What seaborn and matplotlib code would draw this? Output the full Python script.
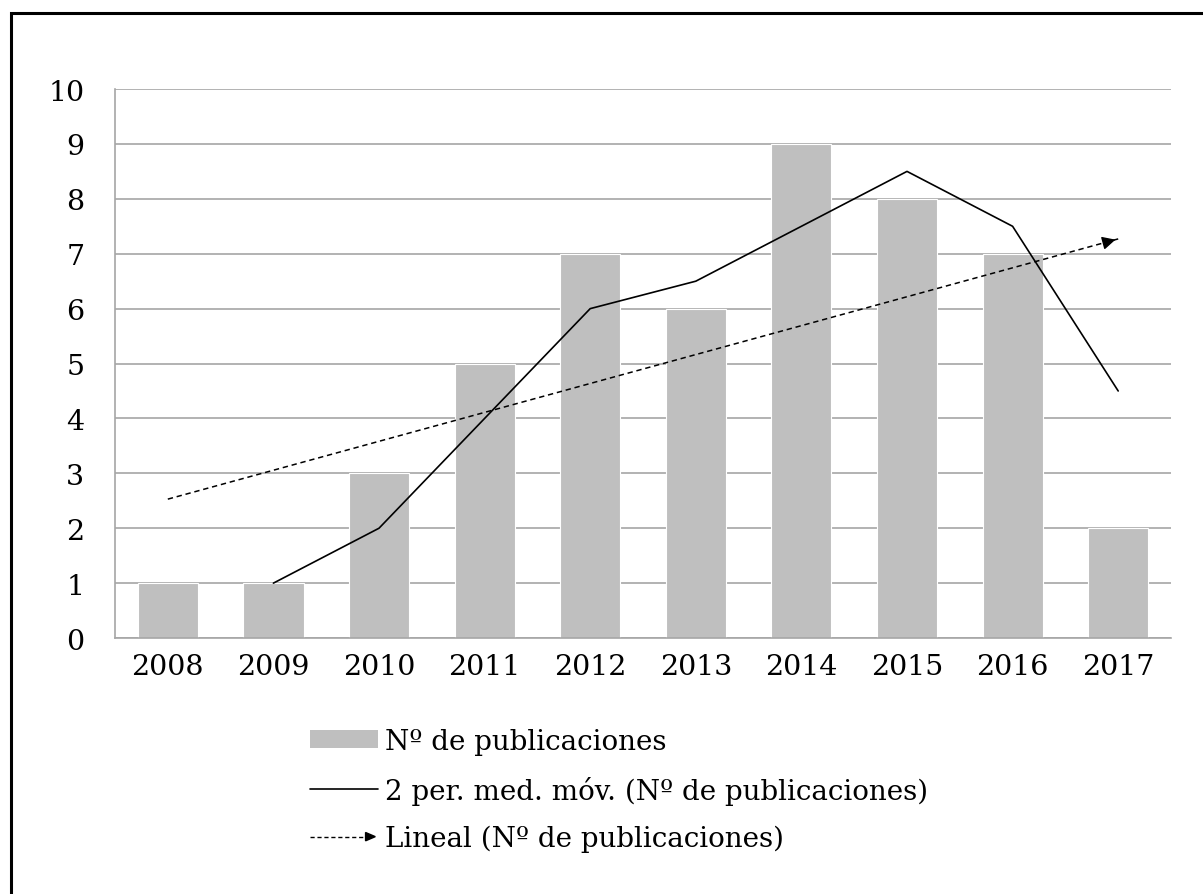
import numpy as np
import pandas as pd
import seaborn as sns
import matplotlib.pyplot as plt
import matplotlib.patches as patches
from matplotlib.lines import Line2D
from matplotlib.legend_handler import HandlerBase

# data
years = ['2008', '2009', '2010', '2011', '2012', '2013', '2014', '2015', '2016', '2017']
publications = [1, 1, 3, 5, 7, 6, 9, 8, 7, 2]
moving_avg_years = ['2009', '2010', '2011', '2012', '2013', '2014', '2015', '2016', '2017']
moving_avg = [1, 2, 4, 6, 6.5, 7.5, 8.5, 7.5, 4.5]
trend_years = ['2008', '2017']
trend_values = [2.53, 7.27]

label_bars = 'Nº de publicaciones'
label_avg = '2 per. med. móv. (Nº de publicaciones)'
label_trend = 'Lineal (Nº de publicaciones)'

BAR_GREY = '#BFBFBF'
GRID_GREY = '#A6A6A6'


class ArrowLineHandler(HandlerBase):
    # dashed line with a small solid arrow head, like the excel trend legend
    def create_artists(self, legend, orig_handle, xdescent, ydescent,
                       width, height, fontsize, trans):
        y = height / 2 - ydescent
        line = Line2D([-xdescent, width - xdescent - 6], [y, y],
                      color='black', lw=1.0, ls=(0, (3, 2)), transform=trans)
        head = patches.FancyArrow(width - xdescent - 8, y, 6, 0, width=0.01,
                                  head_width=6, head_length=7,
                                  length_includes_head=True, color='black',
                                  transform=trans)
        return [line, head]


sns.set_style('white')
plt.rcParams['font.family'] = ['DejaVu Serif']
plt.rcParams['text.color'] = 'black'
plt.rcParams['xtick.color'] = 'black'
plt.rcParams['ytick.color'] = 'black'

fig = plt.figure(figsize=(12.03, 8.95), dpi=100)
ax = fig.add_axes([0.0956, 0.286, 0.8778, 0.6134])

df = pd.DataFrame({'year': years, 'n': publications})
sns.barplot(data=df, x='year', y='n', color=BAR_GREY, saturation=1,
            width=0.57, ax=ax, zorder=2, edgecolor='white', linewidth=0.8)

pos = {y: i for i, y in enumerate(years)}
df_avg = pd.DataFrame({'x': [pos[y] for y in moving_avg_years], 'v': moving_avg})
sns.lineplot(data=df_avg, x='x', y='v', color='black', lw=1.2, ax=ax, zorder=4)

df_trend = pd.DataFrame({'x': [pos[y] for y in trend_years], 'v': trend_values})
sns.lineplot(data=df_trend, x='x', y='v', color='black', lw=1.1,
             ls=(0, (3.5, 2.5)), ax=ax, zorder=4)
x1, x2 = df_trend['x']
v1, v2 = df_trend['v']
ax.annotate('', xy=(x2, v2), xytext=(x2 - 0.15, v2 - 0.15 * (v2 - v1) / (x2 - x1)),
            arrowprops=dict(arrowstyle='-|>', color='black', lw=1.0,
                            mutation_scale=20), zorder=5)

ax.set_xlim(-0.5, len(years) - 0.5)
ax.set_ylim(0, 10)
ax.set_yticks(range(0, 11))
ax.yaxis.grid(True, color=GRID_GREY, lw=1.2, zorder=0)
ax.set_axisbelow(True)
ax.set_xlabel('')
ax.set_ylabel('')
for side in ['top', 'right']:
    ax.spines[side].set_visible(False)
for side in ['left', 'bottom']:
    ax.spines[side].set_color(GRID_GREY)
    ax.spines[side].set_linewidth(1.2)
ax.tick_params(axis='y', length=0, pad=22, labelsize=20.5, labelcolor='black')
ax.tick_params(axis='x', length=0, pad=11, labelsize=20.5, labelcolor='black')

handles = [patches.Patch(facecolor=BAR_GREY, edgecolor='none'),
           Line2D([], [], color='black', lw=1.2),
           Line2D([], [], color='black', lw=1.0, ls='--')]
fig.legend(handles, [label_bars, label_avg, label_trend],
           loc='upper left', bbox_to_anchor=(0.2577, 0.1855), frameon=False,
           fontsize=20, handlelength=2.45, handleheight=0.6, handletextpad=0.25,
           labelspacing=0.74, borderpad=0, borderaxespad=0,
           handler_map={handles[2]: ArrowLineHandler()})

# outer black frame, it runs off the right and bottom edge
fig.patches.append(patches.Rectangle((11 / 1203, -0.05), 1.1, 1 - 14 / 895 + 0.05,
                                     transform=fig.transFigure, fill=False,
                                     edgecolor='black', lw=2.2, zorder=10))

plt.savefig('out.png', dpi=100)
